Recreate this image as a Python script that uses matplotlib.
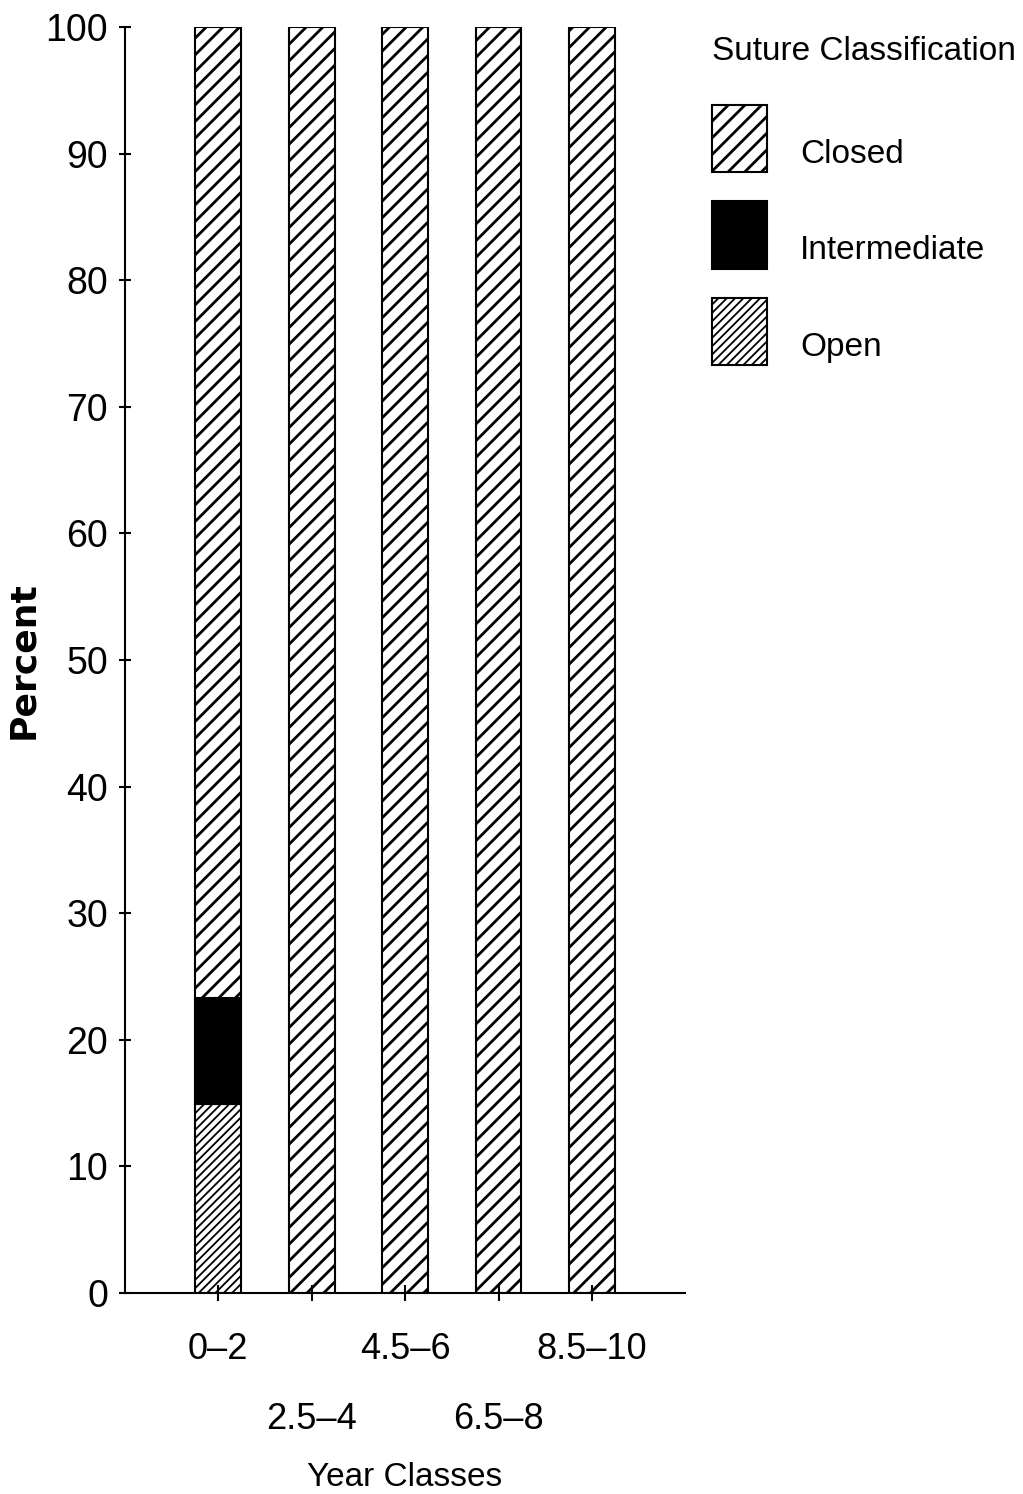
import matplotlib
matplotlib.use("Agg")
import matplotlib.pyplot as plt
import numpy as np

categories = ["0–2", "2.5–4", "4.5–6", "6.5–8", "8.5–10"]
open_pct = [14.9, 0, 0, 0, 0]
inter_pct = [8.4, 0, 0, 0, 0]
closed_pct = [76.7, 100, 100, 100, 100]

plt.rcParams['font.family'] = ['Liberation Sans', 'DejaVu Sans']

fig = plt.figure(figsize=(10.23, 14.94), dpi=100)
ax = fig.add_axes([0.122, 0.1345, 0.548, 0.8475])

x = np.arange(1, len(categories) + 1)
WIDTH = 0.49


def set_hatch_lw(patches, lw):
    for p in patches:
        if hasattr(p, "set_hatch_linewidth"):
            p.set_hatch_linewidth(lw)


open_bars = ax.bar(x, open_pct, width=WIDTH, color="white", edgecolor="black",
                   hatch="////", linewidth=1.5, label="\nOpen")
set_hatch_lw(open_bars, 1.3)
inter_bars = ax.bar(x, inter_pct, width=WIDTH, bottom=open_pct, color="black",
                    edgecolor="black", linewidth=1.5, label="\nIntermediate")
bottom2 = [o + i for o, i in zip(open_pct, inter_pct)]
closed_bars = ax.bar(x, closed_pct, width=WIDTH, bottom=bottom2, color="white",
                     edgecolor="black", hatch="//", linewidth=1.5, label="\nClosed")
set_hatch_lw(closed_bars, 2.0)

ax.set_xlim(0, 6)
ax.set_ylim(0, 100)
ax.spines['top'].set_visible(False)
ax.spines['right'].set_visible(False)
ax.spines['left'].set_linewidth(1.5)
ax.spines['bottom'].set_linewidth(1.5)

ax.set_yticks(range(0, 101, 10))
ax.tick_params(axis='y', direction='inout', length=8, width=1.5, labelsize=27, pad=8)
ax.set_xticks(x)
labels = [c if i % 2 == 0 else "\n" + c for i, c in enumerate(categories)]
ax.set_xticklabels(labels, fontsize=26, linespacing=2.3)
ax.tick_params(axis='x', direction='inout', length=12, width=1.5, pad=22)

ax.set_ylabel("Percent", fontsize=26, fontweight='bold', family='DejaVu Sans', labelpad=4)
ax.set_xlabel("Year Classes", fontsize=24, labelpad=18)

handles, lbls = ax.get_legend_handles_labels()
leg = fig.legend(handles[::-1], lbls[::-1], title="Suture Classification",
                 loc='upper left', bbox_to_anchor=(0.696, 0.976), frameon=False,
                 fontsize=24, title_fontsize=24, handlelength=1.65, handleheight=2.72,
                 labelspacing=0.83, handletextpad=1.0, borderpad=0, borderaxespad=0,
                 alignment='left')
# gap between the title and the first entry
leg._legend_box.sep = 26
lh = leg.legend_handles
set_hatch_lw([lh[0]], 2.0)
set_hatch_lw([lh[2]], 1.3)
for h in lh:
    h.set_linewidth(1.5)

fig.savefig("out.png", dpi=100)
